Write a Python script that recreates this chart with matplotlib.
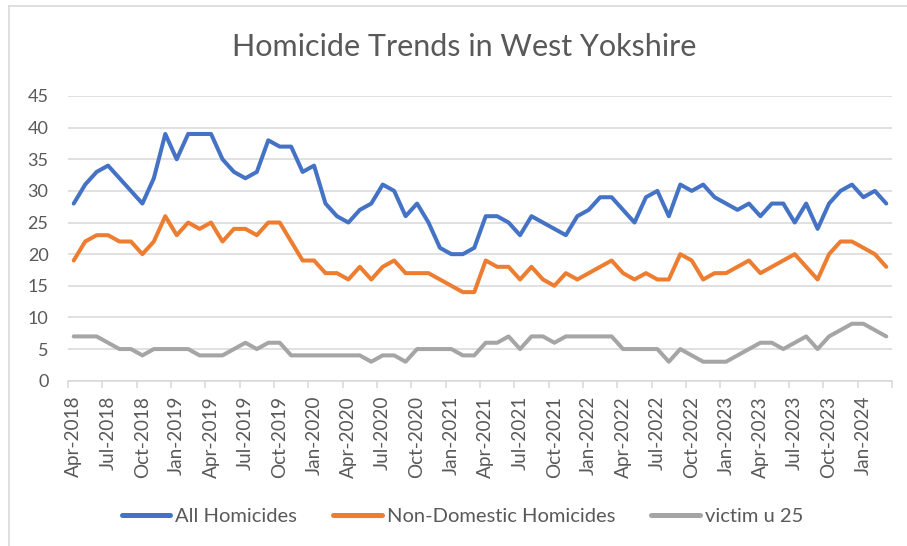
import matplotlib
matplotlib.use("Agg")
from matplotlib import pyplot as plt
from matplotlib.lines import Line2D

plt.rcParams['font.family'] = ['Lato', 'DejaVu Sans']

# months Apr-2018 .. Mar-2024
months = ['Jan', 'Feb', 'Mar', 'Apr', 'May', 'Jun',
          'Jul', 'Aug', 'Sep', 'Oct', 'Nov', 'Dec']
labels = []
for k in range(72):
    m = (3 + k) % 12
    y = 2018 + (3 + k) // 12
    labels.append('%s-%d' % (months[m], y))

all_homicides = [28, 31, 33, 34, 32, 30, 28, 32, 39, 35, 39, 39,
                 39, 35, 33, 32, 33, 38, 37, 37, 33, 34, 28, 26,
                 25, 27, 28, 31, 30, 26, 28, 25, 21, 20, 20, 21,
                 26, 26, 25, 23, 26, 25, 24, 23, 26, 27, 29, 29,
                 27, 25, 29, 30, 26, 31, 30, 31, 29, 28, 27, 28,
                 26, 28, 28, 25, 28, 24, 28, 30, 31, 29, 30, 28]
non_domestic = [19, 22, 23, 23, 22, 22, 20, 22, 26, 23, 25, 24,
                25, 22, 24, 24, 23, 25, 25, 22, 19, 19, 17, 17,
                16, 18, 16, 18, 19, 17, 17, 17, 16, 15, 14, 14,
                19, 18, 18, 16, 18, 16, 15, 17, 16, 17, 18, 19,
                17, 16, 17, 16, 16, 20, 19, 16, 17, 17, 18, 19,
                17, 18, 19, 20, 18, 16, 20, 22, 22, 21, 20, 18]
victim_u25 = [7, 7, 7, 6, 5, 5, 4, 5, 5, 5, 5, 4,
              4, 4, 5, 6, 5, 6, 6, 4, 4, 4, 4, 4,
              4, 4, 3, 4, 4, 3, 5, 5, 5, 5, 4, 4,
              6, 6, 7, 5, 7, 7, 6, 7, 7, 7, 7, 7,
              5, 5, 5, 5, 3, 5, 4, 3, 3, 3, 4, 5,
              6, 6, 5, 6, 7, 5, 7, 8, 9, 9, 8, 7]

series = [('All Homicides', all_homicides, '#4472C4'),
          ('Non-Domestic Homicides', non_domestic, '#ED7D31'),
          ('victim u 25', victim_u25, '#A5A5A5')]

fig = plt.figure(figsize=(9.07, 5.46), dpi=100)
ax = fig.add_axes([68 / 907, 1 - 380.7 / 546, (892 - 68) / 907, (380.7 - 96) / 546])

x = list(range(len(labels)))
for name, vals, col in series:
    ax.plot(x, vals, color=col, lw=2.9, label=name,
            solid_joinstyle='round', solid_capstyle='round')

ax.set_xlim(-0.5, len(labels) - 0.5)
ax.set_ylim(0, 45)
ax.set_yticks(range(0, 46, 5))
ax.grid(axis='y', color='#D9D9D9', lw=1.1)
ax.set_axisbelow(True)
for s in ['top', 'right', 'left']:
    ax.spines[s].set_visible(False)
ax.spines['bottom'].set_color('#D9D9D9')
ax.spines['bottom'].set_linewidth(1.1)

ax.set_xticks(x[::3])
ax.set_xticklabels(labels[::3], rotation=90)
ax.set_xticks([i - 0.5 for i in range(0, 73, 3)], minor=True)
ax.tick_params(axis='x', which='major', length=0, pad=11,
               labelsize=13.7, labelcolor='#595959')
ax.tick_params(axis='x', which='minor', length=5, color='#D9D9D9', width=1.1)
ax.tick_params(axis='y', length=0, pad=14, labelsize=13, labelcolor='#595959')

fig.text(0.512, 1 - 47 / 546, 'Homicide Trends in West Yokshire',
         ha='center', va='center', fontsize=22, color='#595959')

handles = [Line2D([], [], color=c, lw=3.6, solid_capstyle='round') for _, _, c in series]
fig.legend(handles, [n for n, _, _ in series], loc='center',
           bbox_to_anchor=(0.51, 1 - 516 / 546), ncol=3, frameon=False,
           fontsize=14.5, labelcolor='#595959', handlelength=2.4,
           handletextpad=0.25, columnspacing=1.8)

# light chart-area border
fig.add_artist(Line2D([9 / 907, 9 / 907], [0, 1 - 6 / 546], color='#D9D9D9', lw=1.2))
fig.add_artist(Line2D([9 / 907, 1], [1 - 6 / 546, 1 - 6 / 546], color='#D9D9D9', lw=1.2))

fig.savefig('out.png', dpi=100)
